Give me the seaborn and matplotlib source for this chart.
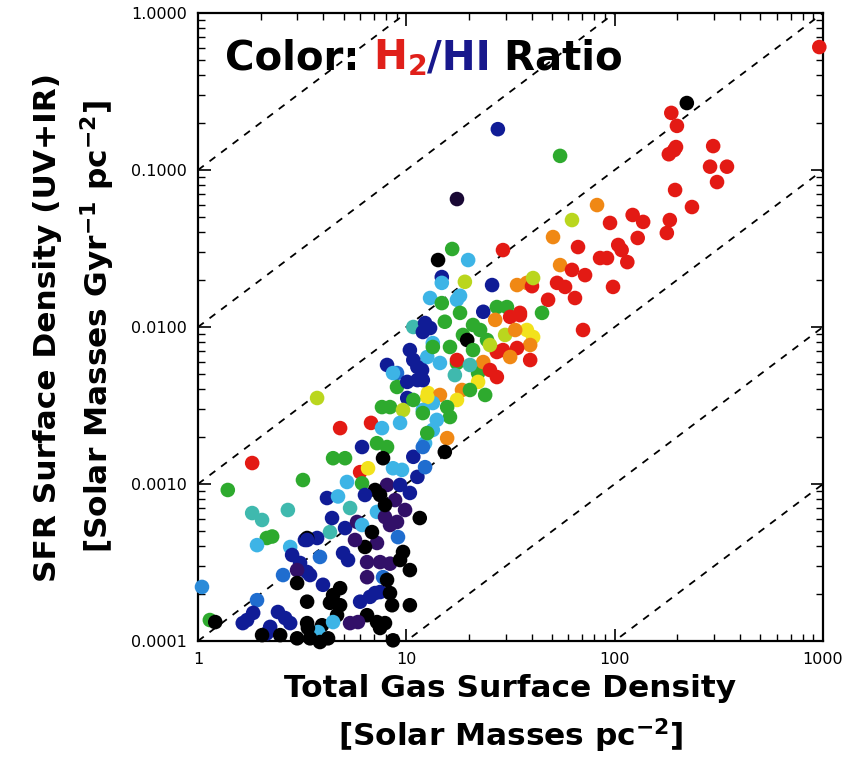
import numpy as np
import pandas as pd
import matplotlib
matplotlib.use("Agg")
import matplotlib.pyplot as plt
import seaborn as sns
from matplotlib.colors import LinearSegmentedColormap
from matplotlib.offsetbox import TextArea, HPacker, AnchoredOffsetbox
from matplotlib.ticker import LogLocator, NullFormatter

# ---------------- data ----------------
gas_high = [960, 222, 187, 199, 197, 182, 193, 297, 287, 346,
            310, 195, 235, 122, 137, 184, 178, 129, 95, 82.3,
            62.4, 50.6, 29.1, 66.7, 85.1, 91.9, 104, 108, 115, 72.1,
            54.7, 62.4, 52.9, 57.8, 47.9, 64.5, 98.2, 70.5, 27.5, 54.7,
            25.8, 23.4, 34.0, 37.9, 40.1, 40.6, 44.8, 35.1]
sfr_high = [0.607, 0.267, 0.231, 0.191, 0.140, 0.126, 0.134, 0.142, 0.105, 0.105,
            0.0838, 0.0746, 0.0581, 0.0517, 0.0467, 0.048, 0.0397, 0.0369, 0.046, 0.0598,
            0.048, 0.0374, 0.0309, 0.0323, 0.0275, 0.0275, 0.0333, 0.0309, 0.0259, 0.0214,
            0.0248, 0.0231, 0.0191, 0.018, 0.0149, 0.0153, 0.018, 0.00957, 0.182, 0.123,
            0.0185, 0.0125, 0.0185, 0.0191, 0.0182, 0.0205, 0.0123, 0.0123]
ratio_high = [1, 0, 1, 1, 1, 1, 1, 1, 1, 1,
              1, 1, 1, 1, 1, 1, 1, 1, 1, 0.88,
              0.72, 0.88, 1, 1, 1, 1, 1, 1, 1, 1,
              0.88, 1, 1, 1, 1, 1, 1, 1, 0.22, 0.62,
              0.22, 0.22, 0.88, 0.88, 1, 0.72, 0.62, 1]

gas_mid = [17.5, 16.6, 14.2, 19.8, 14.8, 14.8, 19.1, 13.0, 18.1, 14.8,
           17.5, 27.2, 30.4, 18.1, 10.8, 12.3, 13.0, 12.0, 15.3, 20.9,
           18.7, 19.6, 13.4, 12.6, 14.5, 16.2, 13.4, 17.5, 20.9, 24.4,
           22.1, 26.7, 31.5, 35.1, 37.9, 40.6, 39.3, 27.2, 29.1, 34.0,
           17.5, 23.4, 25.2, 27.2, 39.3, 31.5, 22.1, 18.5, 12.7, 17.5,
           14.5, 20.2, 16.2, 15.7, 13.4, 14.0, 13.4, 12.3, 15.7, 15.3,
           12.0, 11.9, 10.4, 10.8, 11.3, 8.08, 9.02, 9.02, 3.73, 12.6,
           12.0, 10.1, 8.35, 9.64, 7.64, 8.63, 10.1, 11.3, 4.81, 6.77,
           4.45, 5.08, 3.19, 6.0, 6.55, 7.23, 8.08, 6.13, 5.19, 6.13,
           7.64, 9.33, 8.63, 9.53, 7.73, 8.08, 7.48, 4.16, 4.70, 10.4,
           11.3, 10.8, 12.0, 12.3, 10.8, 12.0, 12.6, 22.6, 25.2, 29.8,
           33.3, 20.2, 23.9, 17.1]
sfr_mid = [0.0653, 0.0314, 0.0267, 0.0267, 0.0208, 0.0191, 0.0194, 0.0153, 0.0158, 0.0142,
           0.0149, 0.0134, 0.0134, 0.0123, 0.0100, 0.0106, 0.00985, 0.00929, 0.0108, 0.0103,
           0.0089, 0.00826, 0.0079, 0.00644, 0.0059, 0.00746, 0.00746, 0.0059, 0.00713, 0.00826,
           0.00509, 0.0111, 0.0116, 0.0119, 0.00957, 0.00863, 0.00768, 0.00693, 0.00713, 0.00735,
           0.00616, 0.00598, 0.00532, 0.0048, 0.00616, 0.00644, 0.00447, 0.00397, 0.0038, 0.00343,
           0.00369, 0.00397, 0.00267, 0.00309, 0.00328, 0.00256, 0.00221, 0.00182, 0.00196, 0.0016,
           0.00459, 0.00532, 0.00713, 0.00616, 0.00556, 0.00573, 0.00509, 0.00415, 0.00353, 0.00358,
           0.00296, 0.00353, 0.00309, 0.00296, 0.00309, 0.00509, 0.00447, 0.00459, 0.00227, 0.00245,
           0.00146, 0.00146, 0.00106, 0.00119, 0.00126, 0.00182, 0.00172, 0.00101, 0.00103, 0.00172,
           0.00227, 0.00245, 0.00126, 0.00123, 0.00146, 0.000986, 0.000851, 0.000814, 0.000833, 0.000877,
           0.00111, 0.00149, 0.00172, 0.00128, 0.00343, 0.00283, 0.00211, 0.00957, 0.00768, 0.0089,
           0.00957, 0.00573, 0.00369, 0.00494]
ratio_mid = [0.06, 0.62, 0, 0.42, 0.22, 0.42, 0.72, 0.42, 0.42, 0.62,
             0.42, 0.62, 0.62, 0.62, 0.5, 0.22, 0.22, 0.22, 0.62, 0.62,
             0.62, 0, 0.42, 0.42, 0.42, 0.62, 0.62, 0.62, 0.62, 0.62,
             0.62, 0.88, 1, 1, 0.78, 0.78, 0.88, 1, 1, 1,
             1, 0.88, 1, 1, 1, 0.88, 0.78, 0.88, 0.78, 0.78,
             0.88, 0.62, 0.62, 0.62, 0.42, 0.42, 0.42, 0.42, 0.88, 0,
             0.22, 0.22, 0.22, 0.22, 0.22, 0.22, 0.32, 0.62, 0.72, 0.78,
             0.42, 0.22, 0.62, 0.72, 0.62, 0.42, 0.22, 0.22, 1, 1,
             0.62, 0.62, 0.62, 1, 0.78, 0.62, 0.62, 0.62, 0.42, 0.22,
             0.42, 0.42, 0.42, 0.42, 0, 0.12, 0, 0.22, 0.42, 0.22,
             0.22, 0.22, 0.32, 0.32, 0.62, 0.62, 0.62, 0.62, 0.72, 0.72,
             0.88, 0.5, 0.62, 0.5]

gas_low = [4.30, 5.37, 4.40, 3.73, 3.26, 3.85, 3.34, 5.08, 5.80, 6.13,
           7.23, 7.90, 8.35, 9.02, 11.6, 9.12, 7.23, 6.33, 9.64, 4.97,
           5.25, 6.48, 7.48, 8.35, 9.33, 10.4, 3.34, 3.45, 6.48, 7.73,
           7.48, 8.08, 3.98, 4.81, 4.45, 4.30, 3.34, 6.0, 6.69, 7.08,
           8.35, 8.54, 10.4, 4.81, 4.65, 6.48, 7.23, 3.34, 3.94, 4.45,
           3.77, 5.37, 5.86, 7.90, 7.48, 3.45, 4.21, 3.85, 8.63, 7.08,
           8.83, 9.86, 7.90, 6.33, 9.33, 6.84, 5.67]
sfr_low = [0.000494, 0.000703, 0.000607, 0.000453, 0.00044, 0.000343, 0.000453, 0.000524, 0.000573, 0.000548,
           0.000664, 0.000616, 0.000548, 0.000573, 0.000607, 0.000459, 0.000421, 0.000397, 0.000369, 0.000363,
           0.000328, 0.000318, 0.000318, 0.000311, 0.000328, 0.000283, 0.000275, 0.000263, 0.000255, 0.000255,
           0.000205, 0.000245, 0.000228, 0.000217, 0.000196, 0.000175, 0.000178, 0.000178, 0.000191, 0.000202,
           0.000202, 0.000169, 0.000169, 0.000169, 0.000146, 0.000146, 0.000132, 0.00013, 0.000126, 0.000132,
           0.000114, 0.00013, 0.000132, 0.00013, 0.000121, 0.000104, 0.000104, 0.0000985, 0.000101, 0.000916,
           0.00079, 0.000683, 0.000735, 0.000851, 0.000986, 0.000494, 0.00044]
ratio_low = [0.5, 0.5, 0.22, 0.22, 0.22, 0.32, 0, 0.22, 0.12, 0.42,
             0.42, 0.12, 0.12, 0.12, 0, 0.32, 0.12, 0, 0, 0.22,
             0.22, 0.12, 0.12, 0.12, 0, 0, 0.22, 0.22, 0.12, 0.32,
             0.22, 0, 0.22, 0, 0, 0, 0, 0.22, 0.22, 0.22,
             0, 0, 0, 0, 0, 0, 0, 0, 0, 0.42,
             0.42, 0.12, 0.12, 0, 0, 0, 0, 0, 0, 0,
             0.12, 0.12, 0, 0.22, 0.22, 0, 0.12]

gas_left = [1.82, 1.39, 1.82, 2.03, 2.70, 2.14, 2.27, 1.92, 2.77, 2.83,
            3.34, 3.09, 2.99, 2.56, 2.99, 1.045, 1.92, 1.84, 1.72, 1.64,
            2.42, 2.62, 2.77, 1.14, 1.21, 2.22, 2.14, 2.03, 2.48, 2.99,
            3.37]
sfr_left = [0.00136, 0.000916, 0.000653, 0.00059, 0.000683, 0.000453, 0.000463, 0.000408, 0.000397, 0.000353,
            0.00044, 0.000314, 0.000283, 0.000263, 0.000234, 0.000221, 0.000182, 0.000151, 0.000136, 0.00013,
            0.000153, 0.00014, 0.00013, 0.000136, 0.000132, 0.000123, 0.000112, 0.000109, 0.000109, 0.000104,
            0.000121]
ratio_left = [1, 0.62, 0.5, 0.5, 0.5, 0.62, 0.62, 0.42, 0.42, 0.22,
              0.22, 0.22, 0.12, 0.32, 0, 0.36, 0.32, 0.22, 0.22, 0.22,
              0.22, 0.22, 0.22, 0.62, 0, 0.22, 0.22, 0, 0, 0,
              0]

x_ticks = [1, 10, 100, 1000]
x_tick_labels = ["1", "10", "100", "1000"]
y_ticks = [0.0001, 0.001, 0.01, 0.1, 1.0]
y_tick_labels = ["0.0001", "0.0010", "0.0100", "0.1000", "1.0000"]
depletion_ratios = [1e-1, 1e-2, 1e-3, 1e-4, 1e-5, 1e-6]

# ---------------- styling ----------------
sns.set_style("ticks")
plt.rcParams["font.family"] = ["DejaVu Sans"]
plt.rcParams["mathtext.fontset"] = "dejavusans"
plt.rcParams["text.color"] = "black"
plt.rcParams["axes.labelcolor"] = "black"
plt.rcParams["xtick.color"] = "black"
plt.rcParams["ytick.color"] = "black"

cmap = LinearSegmentedColormap.from_list("h2hi", [
    (0.00, "#000000"), (0.12, "#33106a"), (0.22, "#101c96"), (0.32, "#1f6fd0"),
    (0.42, "#3db4e6"), (0.50, "#3fb9b0"), (0.62, "#2eaa2e"), (0.72, "#b8d61e"),
    (0.78, "#f2e21c"), (0.88, "#f08a14"), (1.00, "#e31a14")])

df = pd.DataFrame({
    "gas": gas_high + gas_mid + gas_low + gas_left,
    "sfr": sfr_high + sfr_mid + sfr_low + sfr_left,
    "ratio": ratio_high + ratio_mid + ratio_low + ratio_left,
})

fig = plt.figure(figsize=(8.61, 7.75), dpi=100)
ax = fig.add_axes([198 / 861, 1 - 641 / 775, 625 / 861, 628 / 775])
ax.set_xscale("log")
ax.set_yscale("log")
ax.set_xlim(1, 1000)
ax.set_ylim(1e-4, 1)

xl = np.array([1.0, 1000.0])
for r in depletion_ratios:
    ax.plot(xl, r * xl, linestyle=(0, (4, 4)), color="black", lw=1.3, zorder=1)

sns.scatterplot(data=df, x="gas", y="sfr", hue="ratio", palette=cmap,
                hue_norm=(0, 1), s=110, linewidth=0, legend=False, ax=ax,
                clip_on=False, zorder=3)

ax.set_xticks(x_ticks, labels=x_tick_labels)
ax.set_yticks(y_ticks, labels=y_tick_labels)
ax.xaxis.set_minor_locator(LogLocator(base=10, subs=range(2, 10)))
ax.yaxis.set_minor_locator(LogLocator(base=10, subs=range(2, 10)))
ax.xaxis.set_minor_formatter(NullFormatter())
ax.yaxis.set_minor_formatter(NullFormatter())
ax.tick_params(which="both", direction="in", top=True, right=True, colors="black")
ax.tick_params(which="major", length=9, width=1.2, labelsize=11.5, pad=8)
ax.tick_params(which="minor", length=5, width=1.0)
for sp in ax.spines.values():
    sp.set_visible(True)
    sp.set_linewidth(1.6)
    sp.set_color("black")

ax.set_xlabel("Total Gas Surface Density\n[Solar Masses pc$^{\\mathbf{-2}}$]",
              fontsize=22.5, fontweight="bold", linespacing=1.45, labelpad=5,
              color="black")
ax.set_ylabel("SFR Surface Density (UV+IR)\n[Solar Masses Gyr$^{\\mathbf{-1}}$ pc$^{\\mathbf{-2}}$]",
              fontsize=22.5, fontweight="bold", linespacing=1.55, labelpad=10,
              color="black")

tp = dict(fontsize=29, fontweight="bold")
parts = [TextArea("Color: ", textprops=dict(color="black", **tp)),
         TextArea("H$_{\\mathbf{2}}$", textprops=dict(color="#e0201a", **tp)),
         TextArea("/HI", textprops=dict(color="#18188c", **tp)),
         TextArea(" Ratio", textprops=dict(color="black", **tp))]
box = HPacker(children=parts, align="baseline", pad=0, sep=0)
anch = AnchoredOffsetbox(loc="upper left", child=box, pad=0, borderpad=0, frameon=False,
                         bbox_to_anchor=(0.043, 0.96), bbox_transform=ax.transAxes)
ax.add_artist(anch)

fig.savefig("out.png", dpi=100)
